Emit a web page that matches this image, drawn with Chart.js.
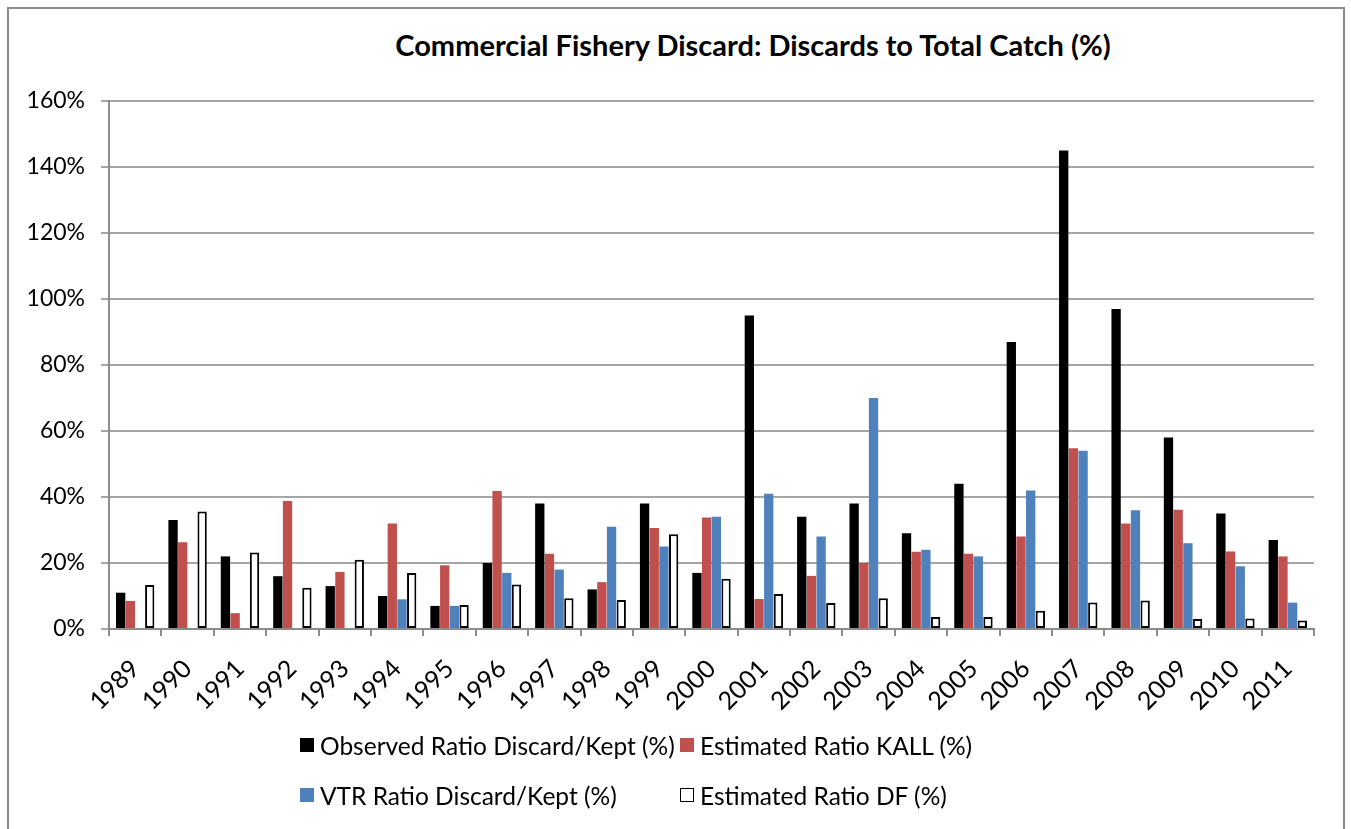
<!DOCTYPE html>
<html>
<head>
<meta charset="utf-8">
<script src="https://cdn.jsdelivr.net/npm/chart.js@4.4.0/dist/chart.umd.min.js"></script>
<style>
    body { margin: 0; background: #fff; font-family: Lato, sans-serif; }
    #wrap { position: relative; width: 1351px; height: 829px; overflow: hidden; }
    #frame { position: absolute; left: 7px; top: 7px; width: 1334px; height: 840px; border: 2px solid #8c8c8c; }
    #titulo { position: absolute; left: 0; top: 27px; width: 1506px; text-align: center; font-weight: bold; font-size: 29px; color: #000; }
    #legenda { position: absolute; left: 300px; top: 730px; display: grid; grid-template-columns: 380px 300px; row-gap: 20px; font-size: 24.5px; }
    .item { display: flex; align-items: center; height: 30px; }
    .caixa { width: 14px; height: 14px; margin-right: 6px; box-sizing: border-box; }
    canvas { position: absolute; left: 0; top: 0; }
</style>
</head>
<body>
<div id="wrap">
    <div id="frame"></div>
    <div id="titulo">Commercial Fishery Discard: Discards to Total Catch (%)</div>
    <canvas id="barras" width="1351" height="829"></canvas>
    <div id="legenda"></div>
</div>
<script>
const anos = ['1989', '1990', '1991', '1992', '1993', '1994', '1995', '1996', '1997', '1998', '1999', '2000',
    '2001', '2002', '2003', '2004', '2005', '2006', '2007', '2008', '2009', '2010', '2011'];

const observado = [11, 33, 22, 16, 13, 10, 7, 20, 38, 12, 38, 17, 95, 34, 38, 29, 44, 87, 145, 97, 58, 35, 27];
const estimadoKall = [8.5, 26.3, 4.8, 38.8, 17.3, 32, 19.3, 41.8, 22.8, 14.2, 30.6, 33.8, 9.1, 16.1, 20, 23.4, 22.8, 28, 54.8, 32, 36.1, 23.5, 22];
const vtr = [null, null, null, null, null, 9, 7, 17, 18, 31, 25, 34, 41, 28, 70, 24, 22, 42, 54, 36, 26, 19, 8];
const estimadoDf = [13.3, 35.6, 23.2, 12.5, 21, 17, 7.3, 13.5, 9.3, 8.8, 28.7, 15.2, 10.6, 7.9, 9.3, 3.6, 3.6, 5.5, 8, 8.6, 3, 3.2, 2.6];

const series = [
    { label: 'Observed Ratio Discard/Kept (%)', data: observado, cor: '#000000', borda: '#000000', largura: 0 },
    { label: 'Estimated Ratio KALL (%)', data: estimadoKall, cor: '#C0504D', borda: '#C0504D', largura: 0 },
    { label: 'VTR Ratio Discard/Kept (%)', data: vtr, cor: '#4F81BD', borda: '#4F81BD', largura: 0 },
    { label: 'Estimated Ratio DF (%)', data: estimadoDf, cor: '#FFFFFF', borda: '#000000', largura: 2 }
];

const cinza = '#8c8c8c';
const fonte = 'Lato';

new Chart('barras', {
    type: 'bar',
    data: {
        labels: anos,
        datasets: series.map(s => ({
            label: s.label,
            data: s.data,
            backgroundColor: s.cor,
            borderColor: s.borda,
            borderWidth: s.largura,
            borderSkipped: false,
            categoryPercentage: 0.74,
            barPercentage: 0.96
        }))
    },
    options: {
        responsive: false,
        animation: false,
        layout: { padding: { left: 0, right: 37, top: 101, bottom: 110 } },
        plugins: {
            legend: { display: false },
            title: { display: false },
            tooltip: { enabled: false }
        },
        scales: {
            x: {
                grid: { offset: true, drawOnChartArea: false, color: cinza, lineWidth: 2, tickLength: 7 },
                border: { color: cinza, width: 2 },
                ticks: { color: '#000', font: { family: fonte, size: 25 }, minRotation: 45, maxRotation: 45, padding: 18 },
                afterFit: scale => { scale.height = 90; }
            },
            y: {
                min: 0,
                max: 160,
                ticks: { stepSize: 20, color: '#000', font: { family: fonte, size: 23 }, padding: 16, callback: v => v + '%' },
                grid: { color: '#a6a6a6', lineWidth: 2, tickLength: 8 },
                border: { color: cinza, width: 2 },
                afterFit: scale => { scale.width = 109; }
            }
        }
    }
});

let legenda = document.querySelector('#legenda');
for (let s of series) {
    let item = document.createElement('div');
    item.className = 'item';
    let caixa = document.createElement('span');
    caixa.className = 'caixa';
    caixa.style.background = s.cor;
    caixa.style.border = s.largura ? '1.5px solid #000' : 'none';
    item.appendChild(caixa);
    item.appendChild(document.createTextNode(s.label));
    legenda.appendChild(item);
}
</script>
</body>
</html>
